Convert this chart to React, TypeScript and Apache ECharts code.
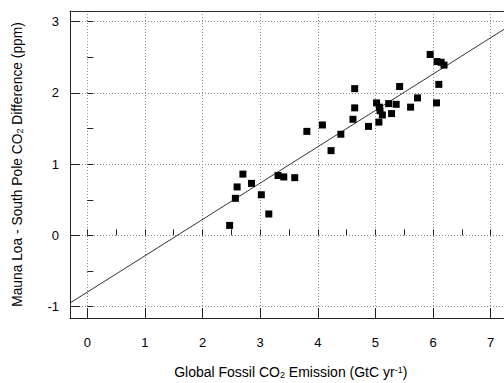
import React, { useEffect, useRef } from "react";
import * as echarts from "echarts";

const emissionX = [2.47, 2.57, 2.6, 2.7, 2.85, 3.02, 3.15, 3.31, 3.41, 3.6, 3.81, 4.08, 4.23, 4.4, 4.61, 4.64, 4.64, 4.88, 5.02, 5.07, 5.08, 5.12, 5.06, 5.23, 5.28, 5.36, 5.42, 5.61, 5.73, 5.95, 6.06, 6.07, 6.1, 6.14, 6.19];
const differenceY = [0.14, 0.52, 0.68, 0.86, 0.73, 0.57, 0.3, 0.84, 0.82, 0.81, 1.46, 1.55, 1.19, 1.42, 1.63, 1.79, 2.06, 1.53, 1.86, 1.8, 1.75, 1.69, 1.59, 1.85, 1.71, 1.84, 2.09, 1.8, 1.93, 2.54, 1.86, 2.44, 2.12, 2.43, 2.39];
const fitLineX = [-0.3, 7.5];
const fitLineY = [-0.95, 3.03];
const xTicks = [0, 1, 2, 3, 4, 5, 6, 7];
const yTicks = [-1, 0, 1, 2, 3];

const FONT = "Liberation Sans, Arial, Helvetica, sans-serif";

export default function App() {
  const ref = useRef<HTMLDivElement>(null);
  useEffect(() => {
    if (!ref.current) return;
    const chart = echarts.init(ref.current, null, { renderer: "svg" });
    const intLabel = (v: number) => (xTicks.includes(v) || yTicks.includes(v) ? String(v) : "");
    const rich = {
      sub: { fontSize: 9, fontFamily: FONT, color: "#000", verticalAlign: "bottom", lineHeight: 8 },
      sup: { fontSize: 9, fontFamily: FONT, color: "#000", verticalAlign: "top", lineHeight: 8 },
    };
    const xMin = -0.3, xMax = 7.5, yMin = -1.16, yMax = 3.15;
    chart.setOption({
      animation: false,
      backgroundColor: "#fff",
      grid: { left: 70, top: 11, width: 449.5, height: 307, containLabel: false, outerBoundsMode: "none" },
      xAxis: [
        {
          type: "value", min: xMin, max: xMax, minInterval: 1, maxInterval: 1, position: "bottom",
          name: "Global Fossil CO{sub|2} Emission (GtC yr{sup|-1})",
          nameLocation: "middle", nameGap: 47,
          nameTextStyle: { fontSize: 14, fontFamily: FONT, color: "#000", rich, padding: [0, 8, 0, 0] },
          axisLine: { show: true, onZero: false, lineStyle: { color: "#222", width: 1 } },
          axisTick: { show: true, inside: true, length: 10, lineStyle: { color: "#222" } },
          axisLabel: { show: true, margin: 18, fontSize: 13, fontFamily: FONT, color: "#000", formatter: intLabel, showMinLabel: false, showMaxLabel: false },
          splitLine: { show: true, lineStyle: { color: "#8a8a8a", type: [1, 2], width: 1 } },
        },
        {
          type: "value", min: xMin, max: xMax, minInterval: 0.5, maxInterval: 0.5, position: "bottom",
          axisLine: { show: false }, axisLabel: { show: false }, splitLine: { show: false },
          axisTick: { show: true, inside: true, length: 6, lineStyle: { color: "#222" } },
        },
        {
          type: "value", min: xMin, max: xMax, position: "top",
          axisLine: { show: true, onZero: false, lineStyle: { color: "#333", width: 1 } },
          axisLabel: { show: false }, axisTick: { show: false }, splitLine: { show: false },
        },
      ],
      yAxis: [
        {
          type: "value", min: yMin, max: yMax, minInterval: 1, maxInterval: 1, position: "left",
          name: "Mauna Loa - South Pole CO{sub|2} Difference (ppm)",
          nameLocation: "middle", nameGap: 46,
          nameTextStyle: { fontSize: 13.8, fontFamily: FONT, color: "#000", rich },
          axisLine: { show: true, onZero: false, lineStyle: { color: "#222", width: 1 } },
          axisTick: { show: true, inside: true, length: 10, lineStyle: { color: "#222" } },
          axisLabel: { show: true, margin: 11, fontSize: 13, fontFamily: FONT, color: "#000", formatter: intLabel, showMinLabel: false, showMaxLabel: false },
          splitLine: { show: true, lineStyle: { color: "#8a8a8a", type: [1, 2], width: 1 } },
        },
        {
          type: "value", min: yMin, max: yMax, minInterval: 0.5, maxInterval: 0.5, position: "left",
          axisLine: { show: false }, axisLabel: { show: false }, splitLine: { show: false },
          axisTick: { show: true, inside: true, length: 6, lineStyle: { color: "#222" } },
        },
      ],
      series: [
        {
          type: "line",
          data: fitLineX.map((x, i) => [x, fitLineY[i]]),
          xAxisIndex: 0, yAxisIndex: 0,
          showSymbol: false, symbol: "none",
          lineStyle: { color: "#333", width: 1 },
          silent: true, z: 2,
        },
        {
          type: "scatter",
          data: emissionX.map((x, i) => [x, differenceY[i]]),
          xAxisIndex: 0, yAxisIndex: 0,
          symbol: "rect", symbolSize: 7,
          itemStyle: { color: "#000", opacity: 1 },
          z: 3,
        },
      ],
    });
    return () => chart.dispose();
  }, []);
  return <div ref={ref} style={{ position: "fixed", left: 0, top: 0, width: 504, height: 383 }} />;
}
